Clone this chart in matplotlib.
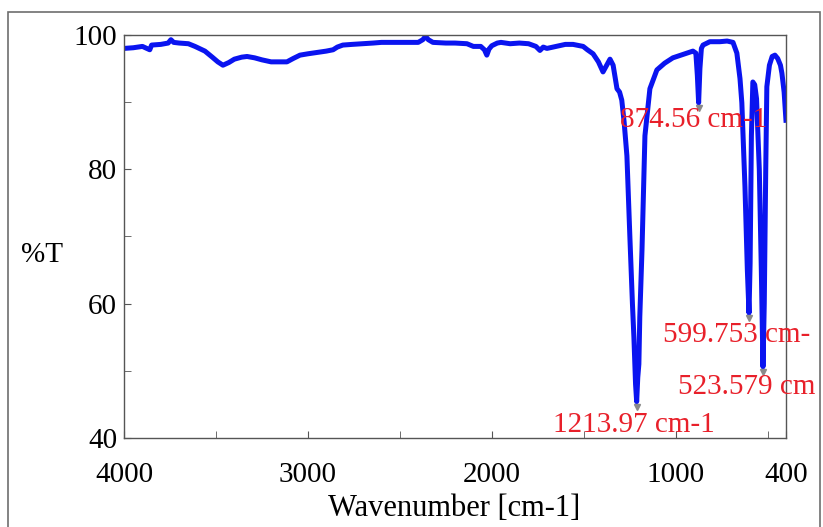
import numpy as np
import matplotlib.pyplot as plt
from matplotlib.patches import Rectangle

plt.rcParams['font.family'] = ['Liberation Serif', 'DejaVu Serif']

# --- FTIR spectrum ---
wavenumber = [4000, 3950, 3900, 3860, 3850, 3800, 3760, 3745, 3730, 3700, 3650,
              3614, 3560, 3520, 3490, 3462, 3430, 3400, 3360, 3331, 3290, 3250,
              3200, 3168, 3114, 3080, 3043, 3000, 2950, 2900, 2863, 2840, 2810,
              2760, 2700, 2646, 2600, 2500, 2400, 2375, 2360, 2345, 2320, 2250,
              2200, 2135, 2100, 2060, 2040, 2027, 2015, 2000, 1970, 1950, 1900,
              1850, 1800, 1760, 1738, 1720, 1700, 1650, 1600, 1558, 1503, 1480,
              1449, 1420, 1395, 1375, 1357, 1340, 1319, 1305, 1293, 1280, 1265,
              1249, 1235, 1227, 1218, 1212, 1206, 1200, 1195, 1183, 1167, 1140,
              1102, 1060, 1015, 960, 906, 890, 882, 875, 868, 860, 851, 814, 760,
              720, 688, 667, 650, 640, 623, 610, 601, 595, 588, 580, 570, 560,
              545, 534, 525, 518, 510, 504, 490, 475, 460, 445, 430, 422, 410, 400]
transmittance = [98.0, 98.1, 98.3, 97.8, 98.5, 98.6, 98.8, 99.3, 98.9, 98.8, 98.7,
                 98.3, 97.6, 96.7, 96.0, 95.5, 95.9, 96.4, 96.7, 96.8, 96.6, 96.3,
                 96.0, 96.0, 96.0, 96.5, 97.0, 97.2, 97.4, 97.6, 97.8, 98.2, 98.5,
                 98.6, 98.7, 98.8, 98.9, 98.9, 98.9, 99.3, 99.8, 99.3, 98.9, 98.8,
                 98.8, 98.7, 98.3, 98.3, 97.8, 97.0, 97.9, 98.4, 98.8, 98.9, 98.7,
                 98.8, 98.7, 98.3, 97.7, 98.2, 98.0, 98.3, 98.6, 98.6, 98.3, 97.8,
                 97.2, 96.0, 94.5, 95.5, 96.4, 95.5, 92.0, 91.5, 90.3, 87.0, 82.0,
                 70.0, 60.0, 55.0, 48.0, 45.4, 49.0, 51.0, 58.0, 68.0, 85.0, 92.0,
                 94.8, 95.8, 96.6, 97.1, 97.6, 97.3, 94.0, 89.9, 95.0, 98.0, 98.5, 99.0, 99.0,
                 99.1, 98.9, 97.3, 93.5, 89.9, 77.4, 65.0, 58.6, 66.0, 85.0, 93.0, 92.6, 90.5,
                 80.0, 65.0, 50.6, 60.0, 80.0, 92.3, 95.5, 96.8, 97.0, 96.5, 95.5, 94.3, 91.5, 87.3]

# peak labels and where they sit
peak_labels = ["874.56 cm-1", "599.753 cm-", "523.579 cm", "1213.97 cm-1"]
peak_text_x = [1303, 1069, 987, 1667]
peak_text_y = [87.3, 55.3, 47.6, 41.9]
peak_pos = [875, 601, 525, 1212]
peak_val = [89.9, 58.6, 50.6, 45.4]

fig = plt.figure(figsize=(8.23, 5.27), dpi=100)
ax = fig.add_axes([0.1507, 0.169, 0.8043, 0.7646])

# outer frame of the picture
fig.patches.append(Rectangle((8 / 823, -0.1), 812 / 823, 1.1 - 12 / 527,
                             transform=fig.transFigure, fill=False,
                             edgecolor='#6e6e6e', linewidth=1.2))

ax.plot(wavenumber, transmittance, color='#0a14f0', linewidth=3.6,
        solid_joinstyle='round')

# little gray tips at labelled peaks
ax.plot(peak_pos, np.array(peak_val) - 0.8, linestyle='none', marker='v',
        markersize=4, color='#8a8a8a')

for txt, tx, ty in zip(peak_labels, peak_text_x, peak_text_y):
    ax.text(tx, ty, txt, color='#e8202a', fontsize=21, ha='left', va='center',
            clip_on=False)

ax.set_xlim(4000, 400)
ax.set_ylim(40, 100)
ax.set_xticks([4000, 3000, 2000, 1000, 400])
ax.set_xticks([3500, 2500, 1500, 500], minor=True)
ax.set_yticks([40, 60, 80, 100])
ax.set_yticks([50, 70, 90], minor=True)
ax.tick_params(axis='both', which='both', direction='in', length=5,
               color='#555555', labelsize=21)
ax.tick_params(axis='x', which='major', pad=17)
ax.tick_params(axis='y', which='major', pad=5)
for s in ax.spines.values():
    s.set_color('#555555')
    s.set_linewidth(1.0)

ax.set_xlabel("Wavenumber [cm-1]", fontsize=22, va='center')
ax.xaxis.set_label_coords(0.498, -0.176)
ax.set_ylabel("%T", fontsize=21, rotation=0, va='center')
ax.yaxis.set_label_coords(-0.124, 0.454)

fig.savefig("out.png", dpi=100)
